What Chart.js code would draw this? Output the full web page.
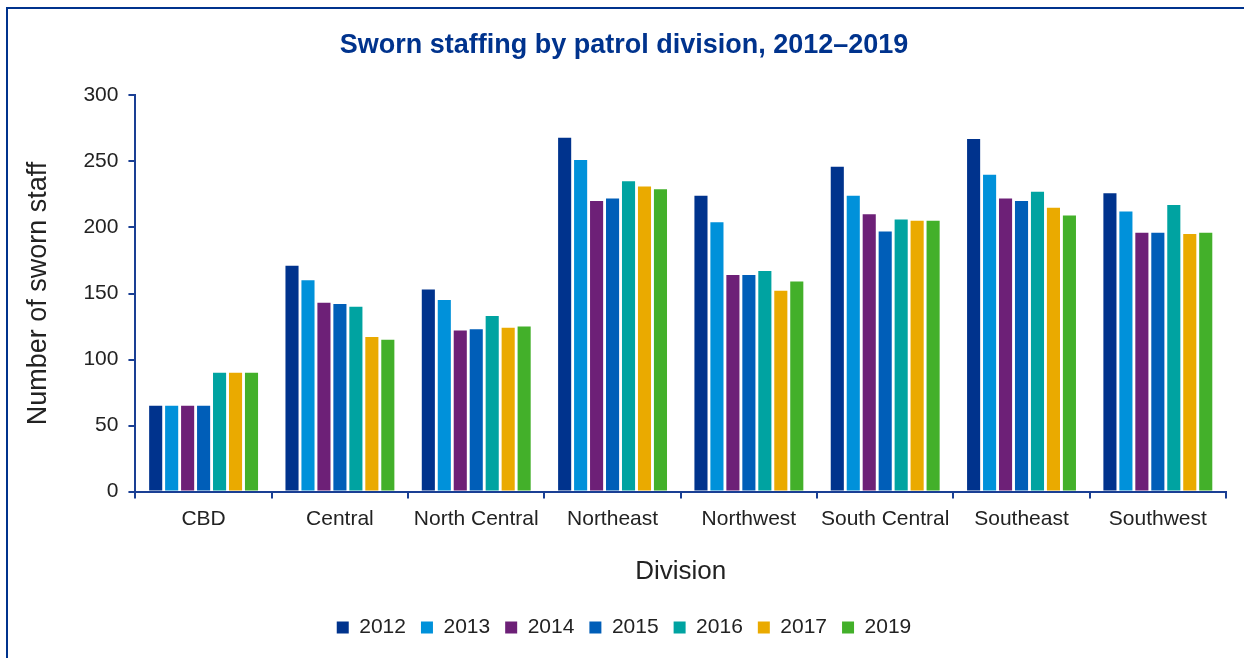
<!DOCTYPE html>
<html>
<head>
<meta charset="utf-8">
<script src="https://cdn.jsdelivr.net/npm/chart.js@4/dist/chart.umd.min.js"></script>
<style>
    html, body { margin: 0; padding: 0; background: #fff; }
    #wrap { position: relative; width: 1244px; height: 658px; overflow: hidden; }
    #frame {
        position: absolute; left: 6px; top: 7px; width: 1300px; height: 700px;
        border-left: 2px solid #00338d; border-top: 2px solid #00338d;
        box-sizing: border-box; pointer-events: none;
    }
    canvas { position: absolute; left: 0; top: 0; }
</style>
</head>
<body>
<div id="wrap">
    <canvas id="chart" width="1244" height="658"></canvas>
    <div id="frame"></div>
</div>
<script>
const divisions = ['CBD', 'Central', 'North Central', 'Northeast', 'Northwest', 'South Central', 'Southeast', 'Southwest'];
const years = ['2012', '2013', '2014', '2015', '2016', '2017', '2019'];

const staff2012 = [65, 171, 153, 268, 224, 246, 267, 226];
const staff2013 = [65, 160, 145, 251, 204, 224, 240, 212];
const staff2014 = [65, 143, 122, 220, 164, 210, 222, 196];
const staff2015 = [65, 142, 123, 222, 164, 197, 220, 196];
const staff2016 = [90, 140, 133, 235, 167, 206, 227, 217];
const staff2017 = [90, 117, 124, 231, 152, 205, 215, 195];
const staff2019 = [90, 115, 125, 229, 159, 205, 209, 196];

const yTicks = [0, 50, 100, 150, 200, 250, 300];

const series = [staff2012, staff2013, staff2014, staff2015, staff2016, staff2017, staff2019];
const colors = ['#00338d', '#0091da', '#6d2077', '#005eb8', '#00a3a1', '#eaaa00', '#43b02a'];
const axisBlue = '#1a3f94';
const font = 'Liberation Sans, Arial, sans-serif';

const datasets = years.map((y, i) => ({
    label: y,
    data: series[i],
    backgroundColor: colors[i],
    barPercentage: 0.82,
    categoryPercentage: 0.82
}));

new Chart(document.getElementById('chart'), {
    type: 'bar',
    data: { labels: divisions, datasets: datasets },
    options: {
        responsive: false,
        animation: false,
        layout: { padding: { left: 22, right: 18, top: 4, bottom: 10 } },
        plugins: {
            title: {
                display: true,
                text: 'Sworn staffing by patrol division, 2012\u20132019',
                color: '#00338d',
                font: { family: font, size: 27, weight: 'bold' },
                padding: { top: 25, bottom: 34 }
            },
            legend: {
                position: 'bottom',
                labels: {
                    boxWidth: 12,
                    boxHeight: 12,
                    padding: 15,
                    color: '#222',
                    font: { family: font, size: 21 }
                }
            },
            tooltip: { enabled: false }
        },
        scales: {
            x: {
                grid: { display: true, drawOnChartArea: false, offset: true, tickLength: 7, color: axisBlue, lineWidth: 2 },
                border: { color: axisBlue, width: 2 },
                ticks: { color: '#222', font: { family: font, size: 21 }, padding: 8, maxRotation: 0 },
                title: { display: true, text: 'Division', color: '#222', font: { family: font, size: 26 }, padding: { top: 16, bottom: 15 } }
            },
            y: {
                min: 0,
                max: 300,
                afterBuildTicks: (scale) => { scale.ticks = yTicks.map(v => ({ value: v })); },
                grid: { display: true, drawOnChartArea: false, tickLength: 7, color: axisBlue, lineWidth: 2 },
                border: { color: axisBlue, width: 2 },
                ticks: { color: '#222', font: { family: font, size: 21 }, padding: 10 },
                title: { display: true, text: 'Number of sworn staff', color: '#222', font: { family: font, size: 27 }, padding: { top: 0, bottom: 19 } }
            }
        }
    }
});
</script>
</body>
</html>
